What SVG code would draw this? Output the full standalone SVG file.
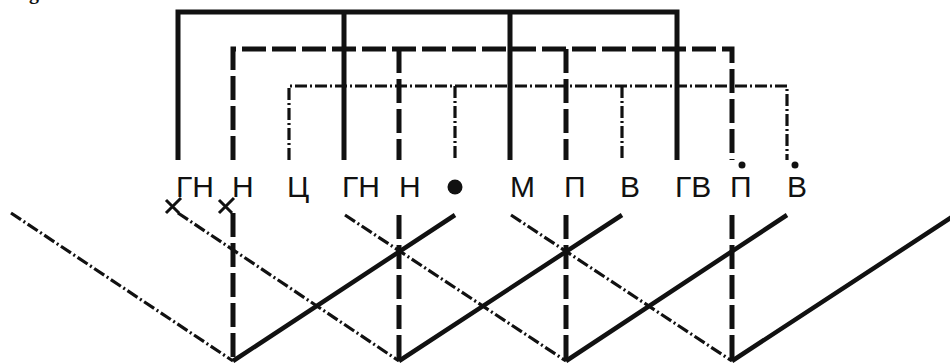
<svg xmlns="http://www.w3.org/2000/svg" width="950" height="363" viewBox="0 0 950 363">
<style>
.s{fill:none;stroke:#111;stroke-width:5;stroke-linejoin:miter}
.sd{fill:none;stroke:#111;stroke-width:4.5}
.d{fill:none;stroke:#111;stroke-width:5;stroke-dasharray:24 6}
.dd{fill:none;stroke:#111;stroke-width:3.2;stroke-dasharray:12 3 2 3}
.x{fill:none;stroke:#111;stroke-width:3}
.t{font-family:"Liberation Sans",Arial,sans-serif;font-size:30px;fill:#111}
</style>
<rect width="950" height="363" fill="#fff"/>
<text x="29" y="-1" style="font-family:'Liberation Serif',serif;font-weight:bold;font-size:20px;fill:#111">g</text>
<g id="connectors">
  <path class="s" d="M178,160 V12 H677 V160"/>
  <path class="s" d="M344,12 V160 M510,12 V160"/>
  <path class="d" d="M233,160 V49 H732 V160"/>
  <path class="d" d="M399,49 V160 M566,49 V160"/>
  <path class="dd" d="M289,160 V86 H787 V160"/>
  <path class="dd" d="M455,86 V160 M622,86 V160"/>
  <path class="d" d="M233,213 V361 M399,215 V361 M566,215 V361 M732,215 V361"/>
  <path class="sd" d="M233,361 L455,215 M399,361 L622,215 M566,361 L787,215 M732,361 L955,215"/>
  <path class="dd" d="M11,213 L233,361 M178,213 L399,361 M345,215 L566,361 M511,215 L732,361"/>
</g>
<g id="mark1"><path class="x" d="M166,213 L181,198 M166,200 L179,213"/></g>
<g id="mark2"><path class="x" d="M219,213 L234,198 M219,200 L232,213"/></g>
<g id="label-GN1"><text class="t" x="176" y="197">ГН</text></g>
<g id="label-N1"><text class="t" x="232" y="197">Н</text></g>
<g id="label-C"><text class="t" x="287" y="197">Ц</text></g>
<g id="label-GN2"><text class="t" x="342" y="197">ГН</text></g>
<g id="label-N2"><text class="t" x="399" y="197">Н</text></g>
<g id="label-dot"><circle cx="455" cy="187" r="7.5" fill="#111"/></g>
<g id="label-M"><text class="t" x="510" y="197">М</text></g>
<g id="label-P"><text class="t" x="564" y="197">П</text></g>
<g id="label-V"><text class="t" x="620" y="197">В</text></g>
<g id="label-GV"><text class="t" x="675" y="197">ГВ</text></g>
<g id="label-P2"><circle cx="742" cy="165" r="3.5" fill="#111"/><text class="t" x="730" y="197">П</text></g>
<g id="label-V2"><circle cx="795" cy="165" r="3.5" fill="#111"/><text class="t" x="787" y="197">В</text></g>
</svg>
